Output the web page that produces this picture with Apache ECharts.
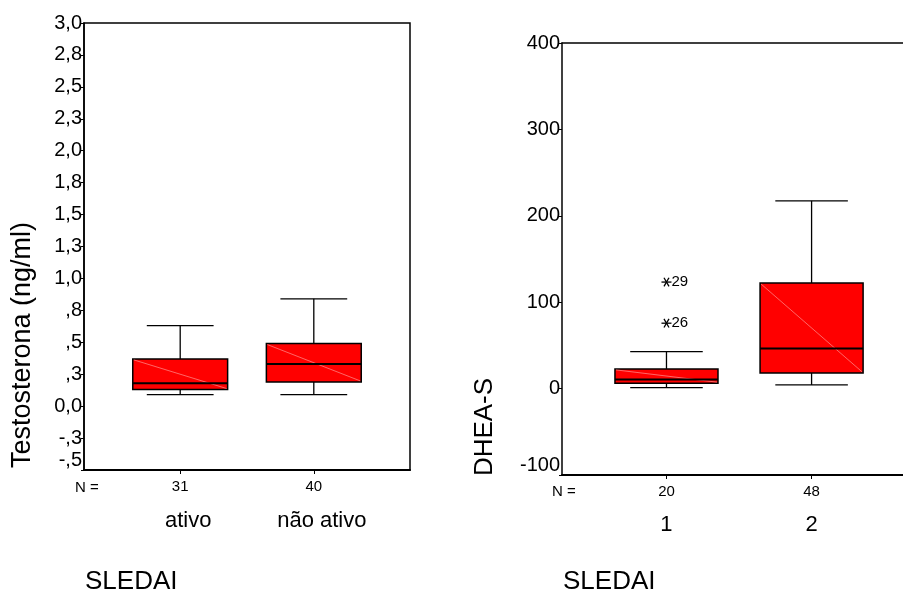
<!DOCTYPE html>
<html>
<head>
<meta charset="utf-8">
<script src="https://cdn.jsdelivr.net/npm/echarts@6/dist/echarts.min.js"></script>
<style>
  html, body { margin: 0; padding: 0; background: #fff; }
  #chart { width: 903px; height: 597px; }
</style>
</head>
<body>
<div id="chart"></div>
<script>
// dados (mín, Q1, mediana, Q3, máx)
const catTesto = ['ativo', 'não ativo'];
const nTesto = [31, 40];
const testoStats = [
  [0.09, 0.13, 0.18, 0.37, 0.63],
  [0.09, 0.19, 0.33, 0.49, 0.84]
];
const testoTicks = ['-,5', '-,3', '0,0', ',3', ',5', ',8', '1,0', '1,3', '1,5', '1,8', '2,0', '2,3', '2,5', '2,8', '3,0'];

const catDhea = ['1', '2'];
const nDhea = [20, 48];
const dheaStats = [
  [1.2, 6.3, 10.4, 22.8, 42.9],
  [4.3, 18.2, 46.3, 122.2, 217.3]
];
// extremos: grupo, valor, caso
const dheaExtremes = [
  [1, 123.3, '29'],
  [1, 75.7, '26']
];

const FONT = 'Liberation Sans, Arial, sans-serif';
const BOX_W = 0.71;
const CAP_W = 0.5;

let myChart = echarts.init(document.getElementById('chart'));

function renderBox(params, api) {
  const x = api.value(0);
  const lo = api.coord([x, api.value(1)]);
  const q1 = api.coord([x, api.value(2)]);
  const med = api.coord([x, api.value(3)]);
  const q3 = api.coord([x, api.value(4)]);
  const hi = api.coord([x, api.value(5)]);
  const hw = api.size([BOX_W, 0])[0] / 2;
  const cw = api.size([CAP_W, 0])[0] / 2;
  const cx = lo[0];
  const line = (x1, y1, x2, y2, w, c) => ({
    type: 'line',
    shape: { x1: x1, y1: y1, x2: x2, y2: y2 },
    style: { stroke: c || '#000', lineWidth: w }
  });
  return {
    type: 'group',
    children: [
      line(cx, hi[1], cx, q3[1], 1.3),
      line(cx, q1[1], cx, lo[1], 1.3),
      line(cx - cw, hi[1], cx + cw, hi[1], 1.3),
      line(cx - cw, lo[1], cx + cw, lo[1], 1.3),
      {
        type: 'rect',
        shape: { x: cx - hw, y: q3[1], width: hw * 2, height: q1[1] - q3[1] },
        style: { fill: '#ff0000', stroke: '#000', lineWidth: 1.5 }
      },
      line(cx - hw + 1, q3[1] + 1, cx + hw - 1, q1[1] - 1, 0.6, 'rgba(255,190,190,0.9)'),
      line(cx - hw, med[1], cx + hw, med[1], 2)
    ]
  };
}

function renderExtreme(params, api) {
  const p = api.coord([api.value(0), api.value(1)]);
  const r = 5;
  const dx = r * Math.cos(Math.PI / 3), dy = r * Math.sin(Math.PI / 3);
  const st = { stroke: '#000', lineWidth: 1.3 };
  return {
    type: 'group',
    children: [
      { type: 'line', shape: { x1: p[0] - r, y1: p[1], x2: p[0] + r, y2: p[1] }, style: st },
      { type: 'line', shape: { x1: p[0] - dx, y1: p[1] - dy, x2: p[0] + dx, y2: p[1] + dy }, style: st },
      { type: 'line', shape: { x1: p[0] - dx, y1: p[1] + dy, x2: p[0] + dx, y2: p[1] - dy }, style: st },
      {
        type: 'text',
        x: p[0] + 5, y: p[1],
        style: { text: api.value(2), fill: '#000', font: '15px ' + FONT, textVerticalAlign: 'middle' }
      }
    ]
  };
}

function xAxisFor(gridIndex, max, cats, counts, shift, lhCat) {
  return {
    gridIndex: gridIndex,
    type: 'value',
    min: 0.28,
    max: max,
    splitLine: { show: false },
    axisLine: { show: true, onZero: false, lineStyle: { color: '#000', width: 2 } },
    axisTick: { show: true, customValues: [1, 2], length: 4, lineStyle: { color: '#000', width: 1 } },
    axisLabel: {
      show: true,
      customValues: [1, 2],
      margin: 7,
      formatter: v => '{n|' + counts[v - 1] + '}\n{c|' + cats[v - 1] + '}',
      rich: {
        n: { fontSize: 15, fontFamily: FONT, color: '#000', lineHeight: 20 },
        c: { fontSize: 22, fontFamily: FONT, color: '#000', lineHeight: lhCat, padding: [0, 0, 0, shift] }
      }
    }
  };
}

function yAxisFor(gridIndex, min, max, interval, fmt) {
  return {
    gridIndex: gridIndex,
    type: 'value',
    min: min,
    max: max,
    interval: interval,
    splitLine: { show: false },
    axisLine: { show: true, lineStyle: { color: '#000', width: 1.5 } },
    axisTick: { show: true, length: 3, lineStyle: { color: '#000' } },
    axisLabel: {
      margin: 2,
      formatter: v => (Math.abs(v - min) < 1e-9 ? '{lo|' + fmt(v) + '}' : '{t|' + fmt(v) + '}'),
      rich: {
        t: { fontSize: 20, fontFamily: FONT, color: '#000' },
        lo: { fontSize: 20, fontFamily: FONT, color: '#000', padding: [0, 0, 20, 0] }
      }
    }
  };
}

myChart.setOption({
  animation: false,
  backgroundColor: '#fff',
  grid: [
    { left: 84, top: 23, right: 493, bottom: 127, show: true, borderColor: '#000', borderWidth: 1.5 },
    { left: 562, top: 43, right: 0, bottom: 122 }
  ],
  xAxis: [
    xAxisFor(0, 2.72, catTesto, nTesto, 16, 48),
    xAxisFor(1, 2.63, catDhea, nDhea, 0, 46),
    {
      // linha superior do quadro da direita
      gridIndex: 1, type: 'value', position: 'top', min: 0.28, max: 2.63,
      splitLine: { show: false }, axisTick: { show: false }, axisLabel: { show: false },
      axisLine: { show: true, onZero: false, lineStyle: { color: '#000', width: 1.5 } }
    }
  ],
  yAxis: [
    yAxisFor(0, -0.5, 3.0, 0.25, v => testoTicks[Math.round((v + 0.5) / 0.25)]),
    yAxisFor(1, -100, 400, 100, v => String(v))
  ],
  graphic: [
    { type: 'text', x: 23, y: 345, rotation: Math.PI / 2,
      style: { text: 'Testosterona (ng/ml)', font: '27px ' + FONT, fill: '#000', textAlign: 'center', textVerticalAlign: 'middle' } },
    { type: 'text', x: 485, y: 427, rotation: Math.PI / 2,
      style: { text: 'DHEA-S', font: '26px ' + FONT, fill: '#000', textAlign: 'center', textVerticalAlign: 'middle' } },
    { type: 'text', x: 75, y: 488,
      style: { text: 'N =', font: '15px ' + FONT, fill: '#000', textVerticalAlign: 'middle' } },
    { type: 'text', x: 552, y: 492,
      style: { text: 'N =', font: '15px ' + FONT, fill: '#000', textVerticalAlign: 'middle' } },
    { type: 'text', x: 85, y: 582,
      style: { text: 'SLEDAI', font: '26px ' + FONT, fill: '#000', textVerticalAlign: 'middle' } },
    { type: 'text', x: 563, y: 582,
      style: { text: 'SLEDAI', font: '26px ' + FONT, fill: '#000', textVerticalAlign: 'middle' } }
  ],
  series: [
    {
      name: 'Testosterona',
      type: 'custom',
      xAxisIndex: 0,
      yAxisIndex: 0,
      renderItem: renderBox,
      encode: { x: 0, y: [1, 2, 3, 4, 5] },
      data: testoStats.map((s, i) => [i + 1].concat(s))
    },
    {
      name: 'DHEA-S',
      type: 'custom',
      xAxisIndex: 1,
      yAxisIndex: 1,
      renderItem: renderBox,
      encode: { x: 0, y: [1, 2, 3, 4, 5] },
      data: dheaStats.map((s, i) => [i + 1].concat(s))
    },
    {
      name: 'extremos',
      type: 'custom',
      xAxisIndex: 1,
      yAxisIndex: 1,
      renderItem: renderExtreme,
      encode: { x: 0, y: 1 },
      data: dheaExtremes
    }
  ]
});
</script>
</body>
</html>
